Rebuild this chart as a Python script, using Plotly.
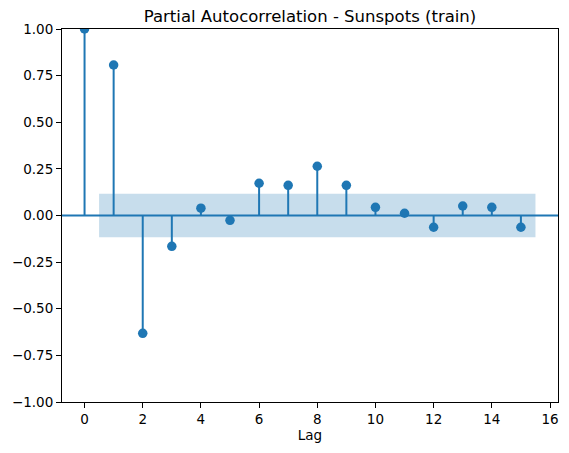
import plotly.graph_objects as go

lags = list(range(16))
pacf = [1.0, 0.807, -0.632, -0.165, 0.039, -0.026, 0.173, 0.162, 0.264, 0.162,
        0.044, 0.012, -0.063, 0.051, 0.044, -0.063]
conf = 0.117
band_x = [0.5, 15.5]
x_ticks = list(range(0, 17, 2))
y_ticks = [-1.0, -0.75, -0.5, -0.25, 0.0, 0.25, 0.5, 0.75, 1.0]

color = "#1f77b4"

sx, sy = [], []
for l, v in zip(lags, pacf):
    sx += [l, l, None]
    sy += [0, v, None]

fig = go.Figure()
fig.add_trace(go.Scatter(
    x=[band_x[0], band_x[1], band_x[1], band_x[0], band_x[0]],
    y=[conf, conf, -conf, -conf, conf],
    fill="toself", fillcolor="rgba(31,119,180,0.25)",
    line=dict(width=0), mode="lines", hoverinfo="skip", showlegend=False))
fig.add_trace(go.Scatter(x=sx, y=sy, mode="lines",
                         line=dict(color=color, width=2), showlegend=False))
fig.add_trace(go.Scatter(x=lags, y=pacf, mode="markers",
                         marker=dict(color=color, size=9.5), showlegend=False))
fig.add_shape(type="line", xref="paper", yref="y", x0=0, x1=1, y0=0, y1=0,
              line=dict(color=color, width=2))

font = dict(family="DejaVu Sans", size=13.5, color="black")
fig.update_layout(
    width=569, height=453,
    margin=dict(l=62, r=11, t=29, b=51),
    plot_bgcolor="white", paper_bgcolor="white",
    font=font,
    title=dict(text="Partial Autocorrelation - Sunspots (train)",
               x=(62 + 558) / 2 / 569, xanchor="center",
               y=1 - 16 / 453, yanchor="middle",
               font=dict(family="DejaVu Sans", size=16.5, color="black")),
    xaxis=dict(range=[-0.775, 16.275], tickvals=x_ticks, showgrid=False,
               zeroline=False, showline=True, linecolor="black", linewidth=1,
               mirror=True, ticks="outside", ticklen=5, tickcolor="black",
               title=dict(text="Lag", font=font, standoff=4)),
    yaxis=dict(range=[-1, 1], tickvals=y_ticks, tickformat=".2f", showgrid=False,
               zeroline=False, showline=True, linecolor="black", linewidth=1,
               mirror=True, ticks="outside", ticklen=5, tickcolor="black"),
)
fig.write_html("out.html")
